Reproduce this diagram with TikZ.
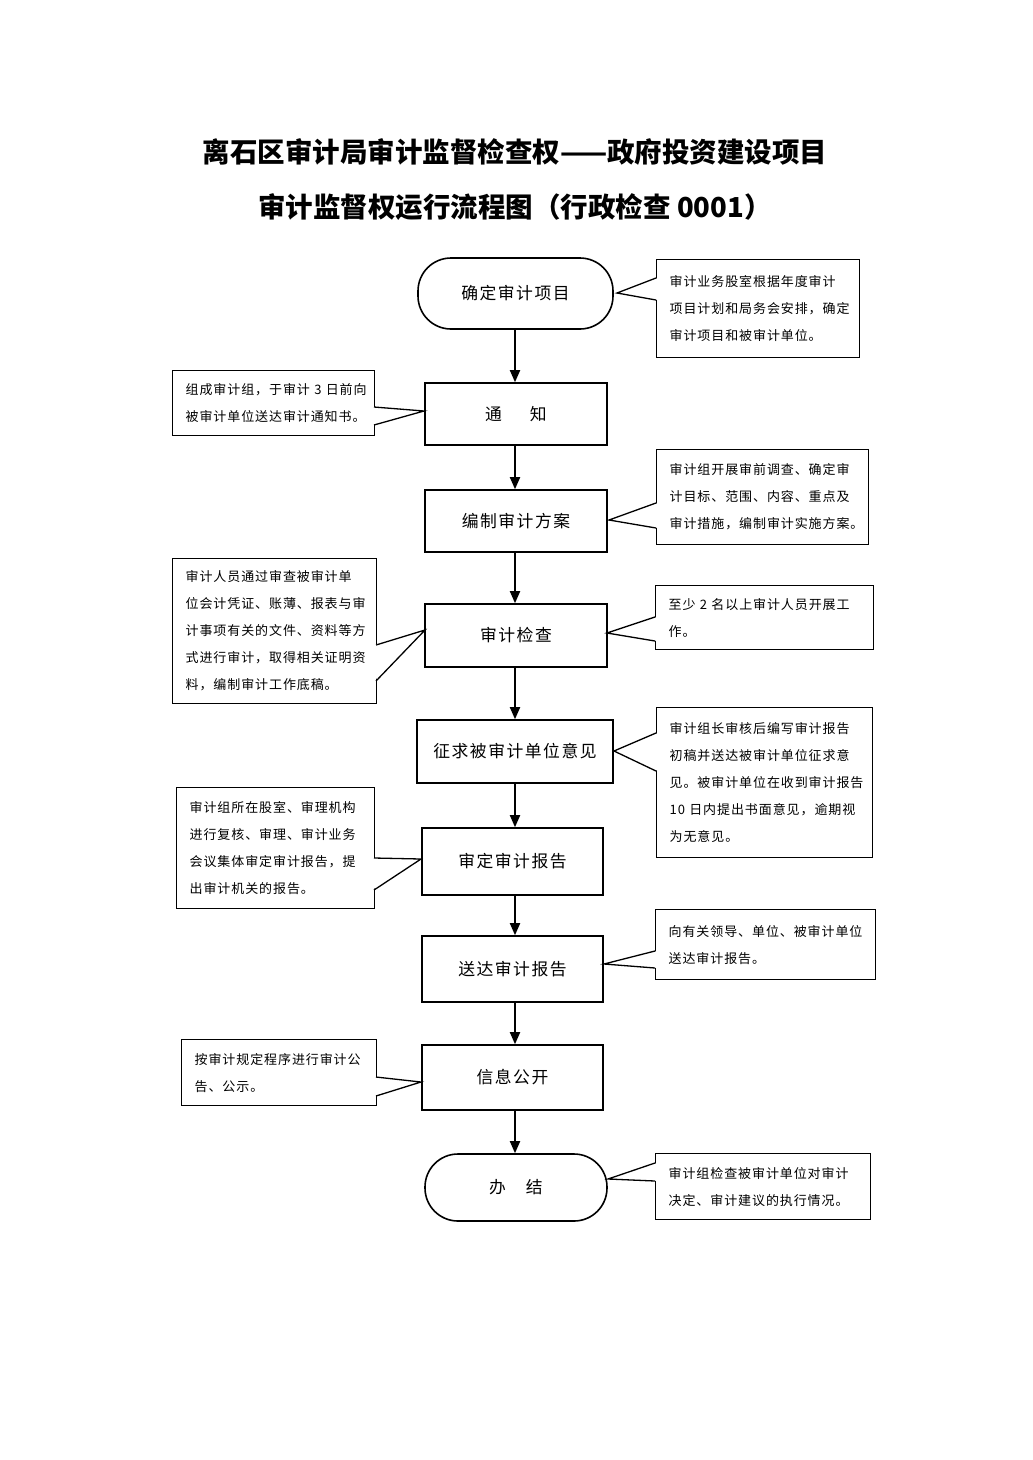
\documentclass[tikz,border=0pt]{standalone}
\usepackage{fontspec}
\usetikzlibrary{arrows.meta}
\newfontfamily\cjk{Noto Sans CJK SC}
\newfontfamily\cjknode{Noto Sans CJK SC}[LetterSpace=9]
\newfontfamily\cjknote{Noto Sans CJK SC}[LetterSpace=7]
\newcommand\nodefont{\cjknode\fontsize{16.8}{20}\selectfont}
\newcommand\notefont{\cjknote\fontsize{13}{27}\selectfont}
\newcommand\titlefont{\cjk\bfseries\fontsize{27.5}{33}\selectfont}
\newcommand\mkwedge[4]{%
  \fill[white] ([xshift=#4]#1) -- (#2) -- ([xshift=#4]#3) -- cycle;
  \draw[wedge] (#1) -- (#2) -- (#3);}
\tikzset{
  proc/.style={draw, line width=1.6pt, inner sep=0pt, font=\nodefont},
  term/.style={proc, rounded corners=33pt},
  note/.style={draw, line width=1.3pt, fill=white, anchor=north west, align=left,
    inner xsep=13pt, inner ysep=0pt, font=\notefont},
  arr/.style={line width=1.8pt, -{Triangle[length=12pt,width=10pt]}},
  wedge/.style={line width=1.3pt, line join=miter},
}
\begin{document}
\begin{tikzpicture}[x=1pt,y=-1pt]
\useasboundingbox (0,0) rectangle (1033,1460);
\fill[white] (0,0) rectangle (1033,1460);

% title
\node[font=\titlefont] (t1) at (515,152) {离石区审计局审计监督检查权——政府投资建设项目};
\node[font=\titlefont] (t2) at (515,207) {审计监督权运行流程图（行政检查 0001）};

% main flow
\node[term, minimum width=195pt, minimum height=71pt] (n1) at (515.5,293.5) {确定审计项目};
\node[proc, minimum width=182pt, minimum height=62pt] (n2) at (516,414) {通\hspace{28pt}知};
\node[proc, minimum width=182pt, minimum height=62pt] (n3) at (516,521) {编制审计方案};
\node[proc, minimum width=182pt, minimum height=63pt] (n4) at (516,635.5) {审计检查};
\node[proc, minimum width=196pt, minimum height=63pt] (n5) at (515,751.5) {征求被审计单位意见};
\node[proc, minimum width=181pt, minimum height=67pt] (n6) at (512.5,861.5) {审定审计报告};
\node[proc, minimum width=181pt, minimum height=66pt] (n7) at (512.5,969) {送达审计报告};
\node[proc, minimum width=181pt, minimum height=65pt] (n8) at (512.5,1077.5) {信息公开};
\node[term, minimum width=182pt, minimum height=67pt] (n9) at (516,1187.5) {办\hspace{20pt}结};

\coordinate (axis) at (515,0);
\foreach \a/\b in {n1/n2,n2/n3,n3/n4,n4/n5,n5/n6,n6/n7,n7/n8,n8/n9}
  \draw[arr] (\a.south -| axis) -- (\b.north -| axis);

% callout boxes
\node[note, text width=177pt, minimum height=98pt] (cA) at (656,259)
  {审计业务股室根据年度审计\\项目计划和局务会安排，确定\\审计项目和被审计单位。};
\node[note, text width=176pt, minimum height=65pt] (cB) at (172,370)
  {组成审计组，于审计~3~日前向\\被审计单位送达审计通知书。};
\node[note, text width=186pt, minimum height=95pt] (cC) at (656,449)
  {审计组开展审前调查、确定审\\计目标、范围、内容、重点及\\审计措施，编制审计实施方案。};
\node[note, text width=178pt, minimum height=145pt] (cD) at (172,558)
  {审计人员通过审查被审计单\\位会计凭证、账薄、报表与审\\计事项有关的文件、资料等方\\式进行审计，取得相关证明资\\料，编制审计工作底稿。};
\node[note, text width=192pt, minimum height=64pt] (cE) at (655,585)
  {至少~2~名以上审计人员开展工\\作。};
\node[note, text width=190pt, minimum height=150pt] (cF) at (656,707)
  {审计组长审核后编写审计报告\\初稿并送达被审计单位征求意\\见。被审计单位在收到审计报告\\10~日内提出书面意见，逾期视\\为无意见。};
\node[note, text width=172pt, minimum height=121pt] (cG) at (176,787)
  {审计组所在股室、审理机构\\进行复核、审理、审计业务\\会议集体审定审计报告，提\\出审计机关的报告。};
\node[note, text width=194pt, minimum height=70pt] (cH) at (655,909)
  {向有关领导、单位、被审计单位\\送达审计报告。};
\node[note, text width=169pt, minimum height=66pt] (cI) at (181,1039)
  {按审计规定程序进行审计公\\告、公示。};
\node[note, text width=189pt, minimum height=66pt] (cJ) at (655,1153)
  {审计组检查被审计单位对审计\\决定、审计建议的执行情况。};

% wedge points
\coordinate (a1) at (656,278);  \coordinate (at) at (617,293);  \coordinate (a2) at (656,300);
\coordinate (b1) at (374,407);  \coordinate (bt) at (424,411);  \coordinate (b2) at (374,425);
\coordinate (c1) at (656,503);  \coordinate (ct) at (609,520);  \coordinate (c2) at (656,528);
\coordinate (d1) at (376,645);  \coordinate (dt) at (425,630);  \coordinate (d2) at (376,681);
\coordinate (e1) at (655,617);  \coordinate (et) at (607,633);  \coordinate (e2) at (655,641);
\coordinate (f1) at (656,733);  \coordinate (ft) at (614,751);  \coordinate (f2) at (656,771);
\coordinate (g1) at (374,858);  \coordinate (gt) at (421,859);  \coordinate (g2) at (374,890);
\coordinate (h1) at (655,951);  \coordinate (ht) at (604,964);  \coordinate (h2) at (655,968);
\coordinate (i1) at (376,1077); \coordinate (it) at (421,1082); \coordinate (i2) at (376,1096);
\coordinate (j1) at (655,1163); \coordinate (jt) at (608,1179); \coordinate (j2) at (655,1181);

\mkwedge{a1}{at}{a2}{2pt}
\mkwedge{b1}{bt}{b2}{-2pt}
\mkwedge{c1}{ct}{c2}{2pt}
\mkwedge{d1}{dt}{d2}{-2pt}
\mkwedge{e1}{et}{e2}{2pt}
\mkwedge{f1}{ft}{f2}{2pt}
\mkwedge{g1}{gt}{g2}{-2pt}
\mkwedge{h1}{ht}{h2}{2pt}
\mkwedge{i1}{it}{i2}{-2pt}
\mkwedge{j1}{jt}{j2}{2pt}
\end{tikzpicture}
\end{document}
